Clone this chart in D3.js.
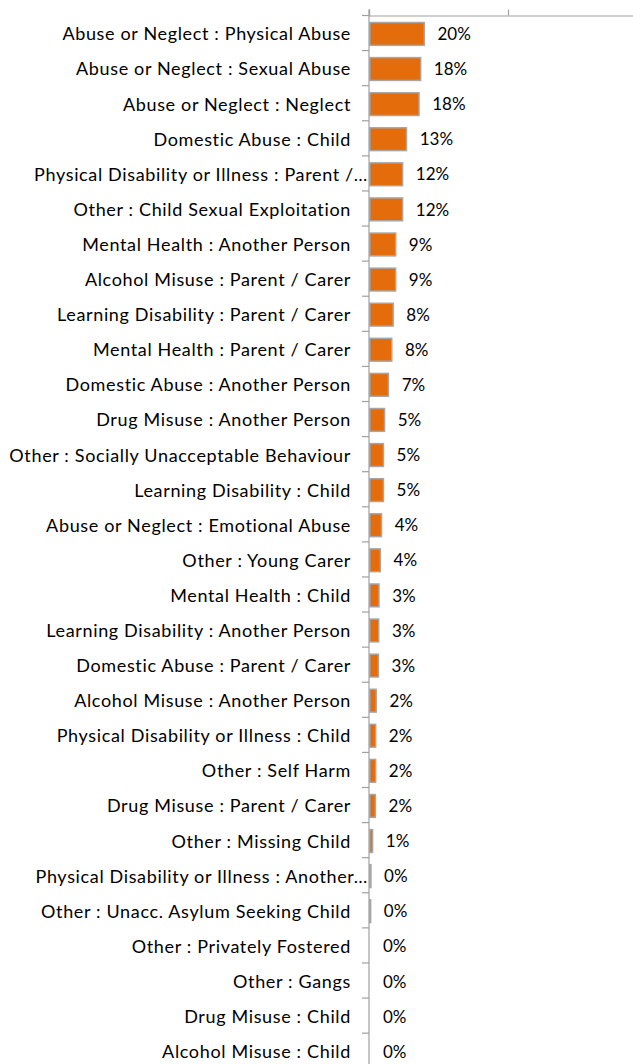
<!DOCTYPE html>
<html>
<head>
<meta charset="utf-8">
<script src="https://cdn.jsdelivr.net/npm/d3@7"></script>
<style>
html, body { margin: 0; padding: 0; background: #fff; overflow: hidden; }
svg { display: block; }
text { font-family: Lato, "Open Sans", sans-serif; }
</style>
</head>
<body>
<script>
const categories = [
  "Abuse or Neglect : Physical Abuse",
  "Abuse or Neglect : Sexual Abuse",
  "Abuse or Neglect : Neglect",
  "Domestic Abuse : Child",
  "Physical Disability or Illness : Parent /…",
  "Other : Child Sexual Exploitation",
  "Mental Health : Another Person",
  "Alcohol Misuse : Parent / Carer",
  "Learning Disability : Parent / Carer",
  "Mental Health : Parent / Carer",
  "Domestic Abuse : Another Person",
  "Drug Misuse : Another Person",
  "Other : Socially Unacceptable Behaviour",
  "Learning Disability : Child",
  "Abuse or Neglect : Emotional Abuse",
  "Other : Young Carer",
  "Mental Health : Child",
  "Learning Disability : Another Person",
  "Domestic Abuse : Parent / Carer",
  "Alcohol Misuse : Another Person",
  "Physical Disability or Illness : Child",
  "Other : Self Harm",
  "Drug Misuse : Parent / Carer",
  "Other : Missing Child",
  "Physical Disability or Illness : Another…",
  "Other : Unacc. Asylum Seeking Child",
  "Other : Privately Fostered",
  "Other : Gangs",
  "Drug Misuse : Child",
  "Alcohol Misuse : Child"
];
const values = [19.6, 18.3, 17.7, 13.2, 11.8, 11.8, 9.3, 9.3, 8.4, 7.9, 6.7, 5.3, 4.9, 4.9, 4.2, 3.8, 3.3, 3.2, 3.1, 2.3, 2.1, 2.1, 2.0, 1.0, 0.4, 0.3, 0, 0, 0, 0];
const labels = ["20%","18%","18%","13%","12%","12%","9%","9%","8%","8%","7%","5%","5%","5%","4%","4%","3%","3%","3%","2%","2%","2%","2%","1%","0%","0%","0%","0%","0%","0%"];
const xTicks = [0, 50, 100];

const W = 633, H = 1064;
const axisX = 369, topY = 15.5;
const svg = d3.select("body").append("svg").attr("width", W).attr("height", H);

const x = d3.scaleLinear().domain([0, 100]).range([axisX, axisX + 278]);
const y = d3.scaleBand().domain(categories).range([topY, topY + 30 * 35.15]).paddingInner(0.35).paddingOuter(0.2);

// top axis
const gx = svg.append("g").attr("transform", `translate(0,${topY})`)
  .call(d3.axisTop(x).tickValues(xTicks).tickSize(6).tickFormat(""));
gx.select(".domain").attr("stroke", "#a0a0a0").attr("stroke-width", 1.2);
gx.selectAll(".tick line").attr("stroke", "#a0a0a0").attr("stroke-width", 1.2);

// left axis (ticks at band boundaries)
const bounds = categories.map((c, i) => topY + i * y.step());
const gy = svg.append("g");
gy.append("line").attr("x1", axisX).attr("x2", axisX).attr("y1", topY - 6).attr("y2", H + 10)
  .attr("stroke", "#a0a0a0").attr("stroke-width", 1.2);
gy.selectAll("line.t").data(bounds).enter().append("line").attr("class", "t")
  .attr("x1", axisX - 7).attr("x2", axisX).attr("y1", d => d).attr("y2", d => d)
  .attr("stroke", "#a0a0a0").attr("stroke-width", 1.2);

// bars
svg.selectAll("rect.bar").data(values).enter().append("rect").attr("class", "bar")
  .attr("x", x(0) + 0.8)
  .attr("y", (d, i) => y(categories[i]))
  .attr("width", d => Math.max(0, x(d) - x(0)))
  .attr("height", y.bandwidth())
  .attr("fill", "#E46C0A")
  .attr("stroke", "#a6a6a6").attr("stroke-width", 1.5)
  .style("display", d => d > 0 ? null : "none");

// category labels
svg.selectAll("text.cat").data(categories).enter().append("text").attr("class", "cat")
  .attr("x", d => d.endsWith("…") ? axisX - 1 : axisX - 18)
  .attr("y", d => y(d) + y.bandwidth() / 2)
  .attr("dy", "0.36em").attr("text-anchor", "end")
  .attr("font-size", 18).attr("letter-spacing", "0.65px").attr("fill", "#000")
  .text(d => d);

// value labels
svg.selectAll("text.val").data(labels).enter().append("text").attr("class", "val")
  .attr("x", (d, i) => x(values[i]) + 14)
  .attr("y", (d, i) => y(categories[i]) + y.bandwidth() / 2)
  .attr("dy", "0.36em").attr("text-anchor", "start")
  .attr("font-size", 17).attr("fill", "#000")
  .text(d => d);
</script>
</body>
</html>
